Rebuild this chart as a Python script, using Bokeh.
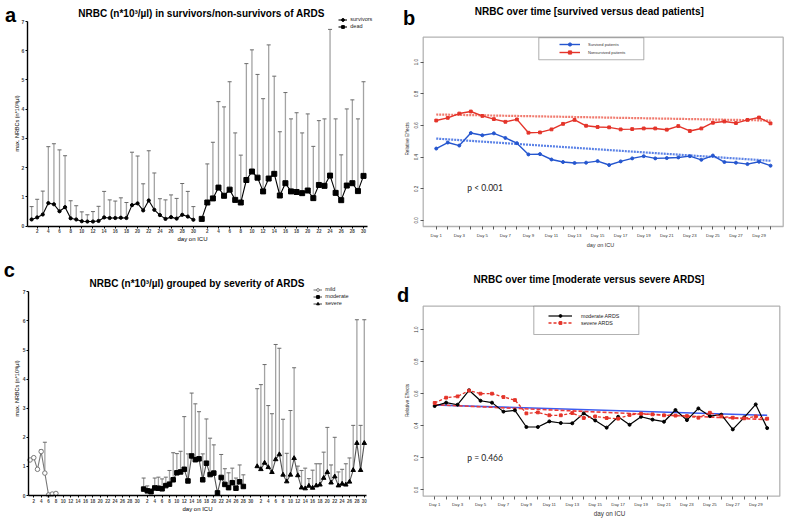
import math
from bokeh.plotting import figure
from bokeh.models import (Range1d, FixedTicker, Label, Legend, LegendItem, LinearAxis,
                          BoxAnnotation, PrintfTickFormatter)
from bokeh.layouts import row, column
from bokeh.embed import file_html
from bokeh.resources import INLINE

# ---------------- data ----------------
days = list(range(1, 31))

# panel a: survivors / dead (mean and upper error bar)
surv_mean = [0.23, 0.30, 0.40, 0.79, 0.75, 0.51, 0.65, 0.27, 0.23, 0.17, 0.16, 0.16, 0.18, 0.30, 0.28,
             0.28, 0.29, 0.28, 0.72, 0.78, 0.54, 0.88, 0.56, 0.38, 0.25, 0.31, 0.26, 0.39, 0.33, 0.22]
surv_upper = [0.67, 0.92, 1.20, 2.72, 2.82, 2.61, 2.41, 0.87, 0.70, 0.49, 0.39, 0.50, 0.68, 1.19, 0.90,
              0.86, 0.97, 0.81, 2.53, 2.40, 1.45, 2.58, 1.82, 0.94, 0.90, 1.07, 0.95, 1.46, 1.19, 0.67]
dead_mean = [0.25, 0.81, 0.95, 1.32, 1.04, 1.25, 0.90, 0.81, 1.58, 1.87, 1.66, 1.19, 1.63, 1.79, 1.05,
             1.47, 1.19, 1.17, 1.13, 1.22, 0.96, 1.41, 1.38, 1.73, 1.14, 0.89, 1.39, 1.47, 1.20, 1.72]
dead_upper = [0.25, 2.13, 2.87, 4.26, 4.08, 4.94, 3.19, 2.43, 5.56, 6.03, 5.19, 4.36, 6.20, 5.13, 3.23,
              4.57, 3.67, 3.88, 3.19, 3.84, 2.73, 3.61, 3.67, 6.73, 3.67, 2.44, 4.01, 4.32, 3.67, 4.94]

# panel b: relative effects survived / non-survived
surv_rel = [0.454, 0.492, 0.473, 0.552, 0.538, 0.550, 0.521, 0.488, 0.417, 0.419, 0.385, 0.369, 0.363, 0.365, 0.375,
            0.350, 0.373, 0.392, 0.406, 0.392, 0.394, 0.398, 0.406, 0.383, 0.410, 0.369, 0.365, 0.356, 0.371, 0.346]
dead_rel = [0.631, 0.648, 0.675, 0.688, 0.660, 0.640, 0.623, 0.638, 0.554, 0.556, 0.575, 0.610, 0.635, 0.598, 0.590,
            0.588, 0.575, 0.577, 0.581, 0.581, 0.573, 0.596, 0.565, 0.581, 0.617, 0.625, 0.615, 0.635, 0.650, 0.613]
trend_days = [1, 30]
surv_trend = [0.517, 0.377]
dead_trend = [0.669, 0.631]

# panel c: severity groups
mild_days = list(range(1, 9))
mild_mean = [1.22, 1.30, 0.90, 1.51, 0.77, 0.02, 0.05, 0.07]
mild_upper = [1.25, 1.33, 0.90, 1.57, 1.83, 0.02, 0.05, 0.10]
mod_days = list(range(1, 29))
mod_mean = [0.22, 0.16, 0.13, 0.26, 0.25, 0.23, 0.34, 0.39, 0.54, 0.78, 0.81, 0.90, 0.50, 1.36,
            1.23, 1.26, 0.54, 1.11, 0.72, 0.77, 0.09, 0.62, 0.38, 0.27, 0.44, 0.25, 0.47, 0.31]
mod_upper = [0.60, 0.33, 0.23, 0.60, 0.63, 0.57, 0.63, 0.86, 1.47, 1.44, 1.52, 2.71, 1.43, 3.52,
             3.15, 2.88, 1.43, 2.63, 1.97, 1.74, 0.09, 1.41, 0.92, 0.78, 0.94, 0.60, 1.05, 0.71]
sev_mean = [1.00, 0.90, 1.12, 0.97, 0.80, 1.24, 1.41, 0.71, 0.48, 0.71, 1.28, 0.69, 0.27, 0.24, 0.33,
            0.26, 0.34, 0.37, 0.60, 0.80, 0.44, 0.65, 0.34, 0.40, 0.37, 0.47, 0.87, 1.80, 0.87, 1.80]
sev_upper = [3.67, 3.81, 4.50, 3.09, 2.81, 5.19, 5.06, 2.62, 1.45, 2.92, 4.39, 1.01, 0.86, 0.94, 0.58,
             0.87, 1.09, 1.09, 1.49, 2.34, 1.05, 2.00, 0.81, 0.90, 1.09, 1.29, 2.41, 6.04, 2.41, 6.04]

# panel d: moderate / severe relative effects
mod_rel = [0.523, 0.544, 0.531, 0.621, 0.556, 0.544, 0.488, 0.496, 0.392, 0.392, 0.427, 0.417, 0.415, 0.477, 0.433,
           0.388, 0.456, 0.406, 0.456, 0.438, 0.425, 0.498, 0.435, 0.508, 0.460, 0.469, 0.377, 0.452, 0.533, 0.385]
sev_rel = [0.542, 0.575, 0.583, 0.619, 0.600, 0.600, 0.579, 0.560, 0.477, 0.483, 0.465, 0.465, 0.479, 0.448, 0.458,
           0.448, 0.444, 0.467, 0.475, 0.471, 0.465, 0.463, 0.460, 0.450, 0.481, 0.458, 0.450, 0.446, 0.458, 0.444]
mod_trend = [0.529, 0.465]
sev_trend = [0.531, 0.438]

even_days = list(range(2, 31, 2))
odd_days = list(range(1, 30, 2))
count_ticks = list(range(0, 8))
rel_ticks = [0.0, 0.2, 0.4, 0.6, 0.8, 1.0]

# group offsets on the shared x axis (layout only)
DEAD_OFF = 30.5
MOD_OFF = 30.75
SEV_OFF = 61.5

FONT = "Liberation Sans"
GREY = "#a3a3a3"
BLUE = "#2556cf"
BLUE_T = "#5b82e6"
RED = "#e4342a"
RED_T = "#f07a6e"

LEFT_W, RIGHT_W = 394, 390
TOP_H, BOT_H = 250, 269


class Panel:
    """A figure whose frame fills it; the axes sit at fixed locations inside."""

    def __init__(self, fx, fy, w, h, box, xr, yr):
        bl, bt, br, bb = box
        kx = (xr[1] - xr[0]) / (br - bl)
        ky = (yr[1] - yr[0]) / (bb - bt)
        x0 = xr[0] - (bl - fx) * kx
        x1 = xr[1] + (fx + w - br) * kx
        y1 = yr[1] + (bt - fy) * ky
        y0 = yr[0] - (fy + h - bb) * ky
        self.fx, self.fy, self.w, self.h = fx, fy, w, h
        self.X, self.Y = (x0, x1), (y0, y1)
        self.xr, self.yr = xr, yr
        p = figure(width=w, height=h, x_range=Range1d(x0, x1), y_range=Range1d(y0, y1),
                   output_backend="svg", toolbar_location=None, tools="",
                   x_axis_location=None, y_axis_location=None,
                   min_border_left=0, min_border_right=0, min_border_top=0, min_border_bottom=0)
        p.grid.visible = False
        p.outline_line_color = None
        p.border_fill_color = "white"
        p.background_fill_color = "white"
        self.p = p

    def conv(self, px, py):
        x = self.X[0] + (px - self.fx) / self.w * (self.X[1] - self.X[0])
        y = self.Y[1] - (py - self.fy) / self.h * (self.Y[1] - self.Y[0])
        return x, y

    def text(self, px, py, s, size, bold=False, align="center", angle=0.0, font=FONT, color="black"):
        x, y = self.conv(px, py)
        self.p.add_layout(Label(x=x, y=y, text=s, text_font=font, text_font_size=f"{size}px",
                                text_font_style="bold" if bold else "normal", text_align=align,
                                text_baseline="middle", angle=angle, text_color=color))

    def box(self, pl, pt, pr, pb, width=1.1):
        x0, y0 = self.conv(pl, pb)
        x1, y1 = self.conv(pr, pt)
        self.p.add_layout(BoxAnnotation(left=x0, right=x1, bottom=y0, top=y1,
                                        fill_color="white", fill_alpha=1,
                                        line_color="black", line_width=width))

    def legend_at(self, items, left, top, rows, row_h, **kw):
        loc = (left - self.fx, self.h - (top - self.fy) - rows * row_h)
        leg = Legend(items=items, location=loc, padding=0, margin=0, spacing=0,
                     glyph_height=row_h, label_height=row_h, background_fill_alpha=0,
                     border_line_color=None, label_text_font=FONT, **kw)
        self.p.add_layout(leg)


def err_bars(p, xs, mean, upper):
    keep = [i for i in range(len(xs)) if upper[i] > mean[i] + 1e-9]
    bx = [xs[i] for i in keep]
    bm = [mean[i] for i in keep]
    bu = [upper[i] for i in keep]
    p.segment(x0=bx, y0=bm, x1=bx, y1=bu, line_color=GREY, line_width=1.3)
    p.scatter(bx, bu, marker="dash", size=4, line_color="#6a6a6a", line_width=1)


def prism_axes(P, xticks, overrides):
    p = P.p
    xa = LinearAxis(fixed_location=P.yr[0], bounds=P.xr,
                    ticker=FixedTicker(ticks=xticks, minor_ticks=[]))
    ya = LinearAxis(fixed_location=P.xr[0], bounds=P.yr,
                    ticker=FixedTicker(ticks=count_ticks, minor_ticks=[]))
    for ax in (xa, ya):
        ax.axis_line_color = "black"
        ax.axis_line_width = 1.4
        ax.major_tick_line_color = "black"
        ax.major_tick_line_width = 1
        ax.major_tick_in = 0
        ax.major_tick_out = 2
        ax.minor_tick_line_color = None
        ax.major_label_text_font = FONT
        ax.major_label_text_font_style = "bold"
        ax.major_label_text_font_size = "4.5px"
        ax.major_label_standoff = 1
    xa.major_label_overrides = overrides
    ya.major_label_text_font_size = "5px"
    p.add_layout(xa, "below")
    p.add_layout(ya, "left")


def r_axes(P):
    p = P.p
    xa = LinearAxis(fixed_location=P.yr[0], bounds=(1, 30),
                    ticker=FixedTicker(ticks=days, minor_ticks=[]))
    ya = LinearAxis(fixed_location=P.xr[0], bounds=(0, 1),
                    ticker=FixedTicker(ticks=rel_ticks, minor_ticks=[]))
    for ax in (xa, ya):
        ax.axis_line_color = None
        ax.major_tick_line_color = "#333333"
        ax.major_tick_line_width = 0.8
        ax.major_tick_in = 0
        ax.major_tick_out = 3
        ax.minor_tick_line_color = None
        ax.major_label_text_font = FONT
        ax.major_label_text_color = "#333333"
    xa.major_label_overrides = {d: (f"Day {d}" if d in odd_days else "") for d in days}
    xa.major_label_text_font_size = "4.3px"
    xa.major_label_standoff = 3
    ya.formatter = PrintfTickFormatter(format="%.1f")
    ya.major_label_orientation = "vertical"
    ya.major_label_text_font_size = "4.5px"
    ya.major_label_standoff = 2
    p.add_layout(xa, "below")
    p.add_layout(ya, "left")
    # plot box
    p.add_layout(BoxAnnotation(left=P.xr[0], right=P.xr[1], bottom=P.yr[0], top=P.yr[1],
                               fill_alpha=0, line_color="black", line_width=1.3))


# ---------------- panel a ----------------
PA = Panel(0, 0, LEFT_W, TOP_H, (26.7, 21, 366.7, 225.7), (0.21, 61.16), (0, 7))
pa = PA.p
dead_x = [d + DEAD_OFF for d in days]
a_ticks = even_days + [d + DEAD_OFF for d in even_days]
a_over = {t: str(d) for t, d in zip(a_ticks, even_days + even_days)}
prism_axes(PA, a_ticks, a_over)
err_bars(pa, days, surv_mean, surv_upper)
err_bars(pa, dead_x, dead_mean, dead_upper)
ls = pa.line(days, surv_mean, line_color="black", line_width=1.1)
ss = pa.scatter(days, surv_mean, marker="circle", size=3.2, color="black")
ld = pa.line(dead_x, dead_mean, line_color="black", line_width=1.1)
sd = pa.scatter(dead_x, dead_mean, marker="square", size=5, color="black")
PA.legend_at([LegendItem(label="survivors", renderers=[ls, ss]),
              LegendItem(label="dead", renderers=[ld, sd])],
             338.3, 15.6, 2, 7, glyph_width=9, label_standoff=3,
             label_text_font_size="5.5px", label_text_color="#222222")
PA.text(10, 14.5, "a", 20, bold=True)
PA.text(201, 13.3, "NRBC (n*10³/µl) in survivors/non-survivors of ARDS", 10, bold=True)
PA.text(16.7, 123, "max. NRBCs (n*10³/µl)", 5.5, angle=math.pi / 2)
PA.text(192, 238.5, "day on ICU", 6)

# ---------------- panel b ----------------
PB = Panel(LEFT_W, 0, RIGHT_W, TOP_H, (422.7, 36.7, 782.7, 226), (-0.13, 31.1), (-0.038, 1.157))
pb = PB.p
r_axes(PB)
pb.line(trend_days, surv_trend, line_color=BLUE_T, line_width=2.2, line_dash="2 1")
pb.line(trend_days, dead_trend, line_color=RED_T, line_width=2.2, line_dash="2 1")
lb1 = pb.line(days, surv_rel, line_color=BLUE, line_width=1.4)
sb1 = pb.scatter(days, surv_rel, marker="circle", size=3, color=BLUE)
lb2 = pb.line(days, dead_rel, line_color=RED, line_width=1.4)
sb2 = pb.scatter(days, dead_rel, marker="square", size=2.8, color=RED)
PB.box(538.3, 37.3, 643.3, 59.3)
PB.legend_at([LegendItem(label="Survived patients", renderers=[lb1, sb1]),
              LegendItem(label="Nonsurvived patients", renderers=[lb2, sb2])],
             559, 40.3, 2, 8, glyph_width=21, label_standoff=8,
             label_text_font_size="4px", label_text_color="#333333")
PB.text(408.5, 17, "b", 20, bold=True)
PB.text(588.8, 11, "NRBC over time [survived versus dead patients]", 10, bold=True)
PB.text(406.7, 138.5, "Relative Effects", 4.8, angle=math.pi / 2, color="#333333")
PB.text(600, 244, "day on ICU", 5.5, color="#333333")
PB.text(466.7, 187.7, "p < 0.001", 8.5, align="left", font="Lato", color="#222222")

# ---------------- panel c ----------------
PC = Panel(0, TOP_H, LEFT_W, BOT_H, (28, 291.3, 366, 495), (0.57, 92.1), (0, 7))
pc = PC.p
mod_x = [d + MOD_OFF for d in mod_days]
sev_x = [d + SEV_OFF for d in days]
c_ticks = even_days + [d + MOD_OFF for d in even_days] + [d + SEV_OFF for d in even_days]
c_over = {t: str(d) for t, d in zip(c_ticks, even_days * 3)}
prism_axes(PC, c_ticks, c_over)
err_bars(pc, mild_days, mild_mean, mild_upper)
err_bars(pc, mod_x, mod_mean, mod_upper)
err_bars(pc, sev_x, sev_mean, sev_upper)
lm = pc.line(mild_days, mild_mean, line_color="#7a7a7a", line_width=1.1)
sm = pc.scatter(mild_days, mild_mean, marker="circle", size=4.5, fill_color="white",
                line_color="#7a7a7a", line_width=1)
lmo = pc.line(mod_x, mod_mean, line_color="#555555", line_width=1.1)
smo = pc.scatter(mod_x, mod_mean, marker="square", size=4.5, color="black")
lsv = pc.line(sev_x, sev_mean, line_color="#555555", line_width=1.1)
ssv = pc.scatter(sev_x, sev_mean, marker="triangle", size=4.5, color="black")
PC.legend_at([LegendItem(label="mild", renderers=[lm, sm]),
              LegendItem(label="moderate", renderers=[lmo, smo]),
              LegendItem(label="severe", renderers=[lsv, ssv])],
             313.3, 285.5, 3, 7, glyph_width=9, label_standoff=3,
             label_text_font_size="5.5px", label_text_color="#222222")
PC.text(8.7, 269, "c", 20, bold=True)
PC.text(196.7, 283.3, "NRBC (n*10³/µl) grouped by severity of ARDS", 10, bold=True)
PC.text(16.7, 388, "max. NRBCs (n*10³/µl)", 5.5, angle=math.pi / 2)
PC.text(197, 508, "day on ICU", 6)

# ---------------- panel d ----------------
PD = Panel(LEFT_W, TOP_H, RIGHT_W, BOT_H, (422.7, 305.7, 779.3, 495.7), (0.0, 31.1), (-0.04, 1.146))
pd_ = PD.p
r_axes(PD)
pd_.line(trend_days, mod_trend, line_color="#3d5cf0", line_width=1.6)
pd_.line(trend_days, sev_trend, line_color="#ee3b3b", line_width=1.6, line_dash="4 2")
ld1 = pd_.line(days, mod_rel, line_color="black", line_width=1.2)
sd1 = pd_.scatter(days, mod_rel, marker="circle", size=3, color="black")
ld2 = pd_.line(days, sev_rel, line_color=RED, line_width=1.3, line_dash="3 2")
sd2 = pd_.scatter(days, sev_rel, marker="square", size=2.8, color=RED)
PD.box(533.3, 305.7, 638.3, 334)
PD.legend_at([LegendItem(label="moderate ARDS", renderers=[ld1, sd1]),
              LegendItem(label="severe ARDS", renderers=[ld2, sd2])],
             548, 312, 2, 7, glyph_width=24, label_standoff=9,
             label_text_font_size="5.3px", label_text_color="#222222")
PD.text(402.5, 294, "d", 20, bold=True)
PD.text(588.7, 279.3, "NRBC over time [moderate versus severe ARDS]", 10, bold=True)
PD.text(407, 400, "Relative Effects", 4.8, angle=math.pi / 2, color="#333333")
PD.text(609, 513, "day on ICU", 6.3, color="#333333")
PD.text(466.7, 457.7, "p = 0.466", 8.5, align="left", font="Lato", color="#222222")

layout = column(row(pa, pb), row(pc, pd_))
open("out.html", "w").write(file_html(layout, INLINE))
